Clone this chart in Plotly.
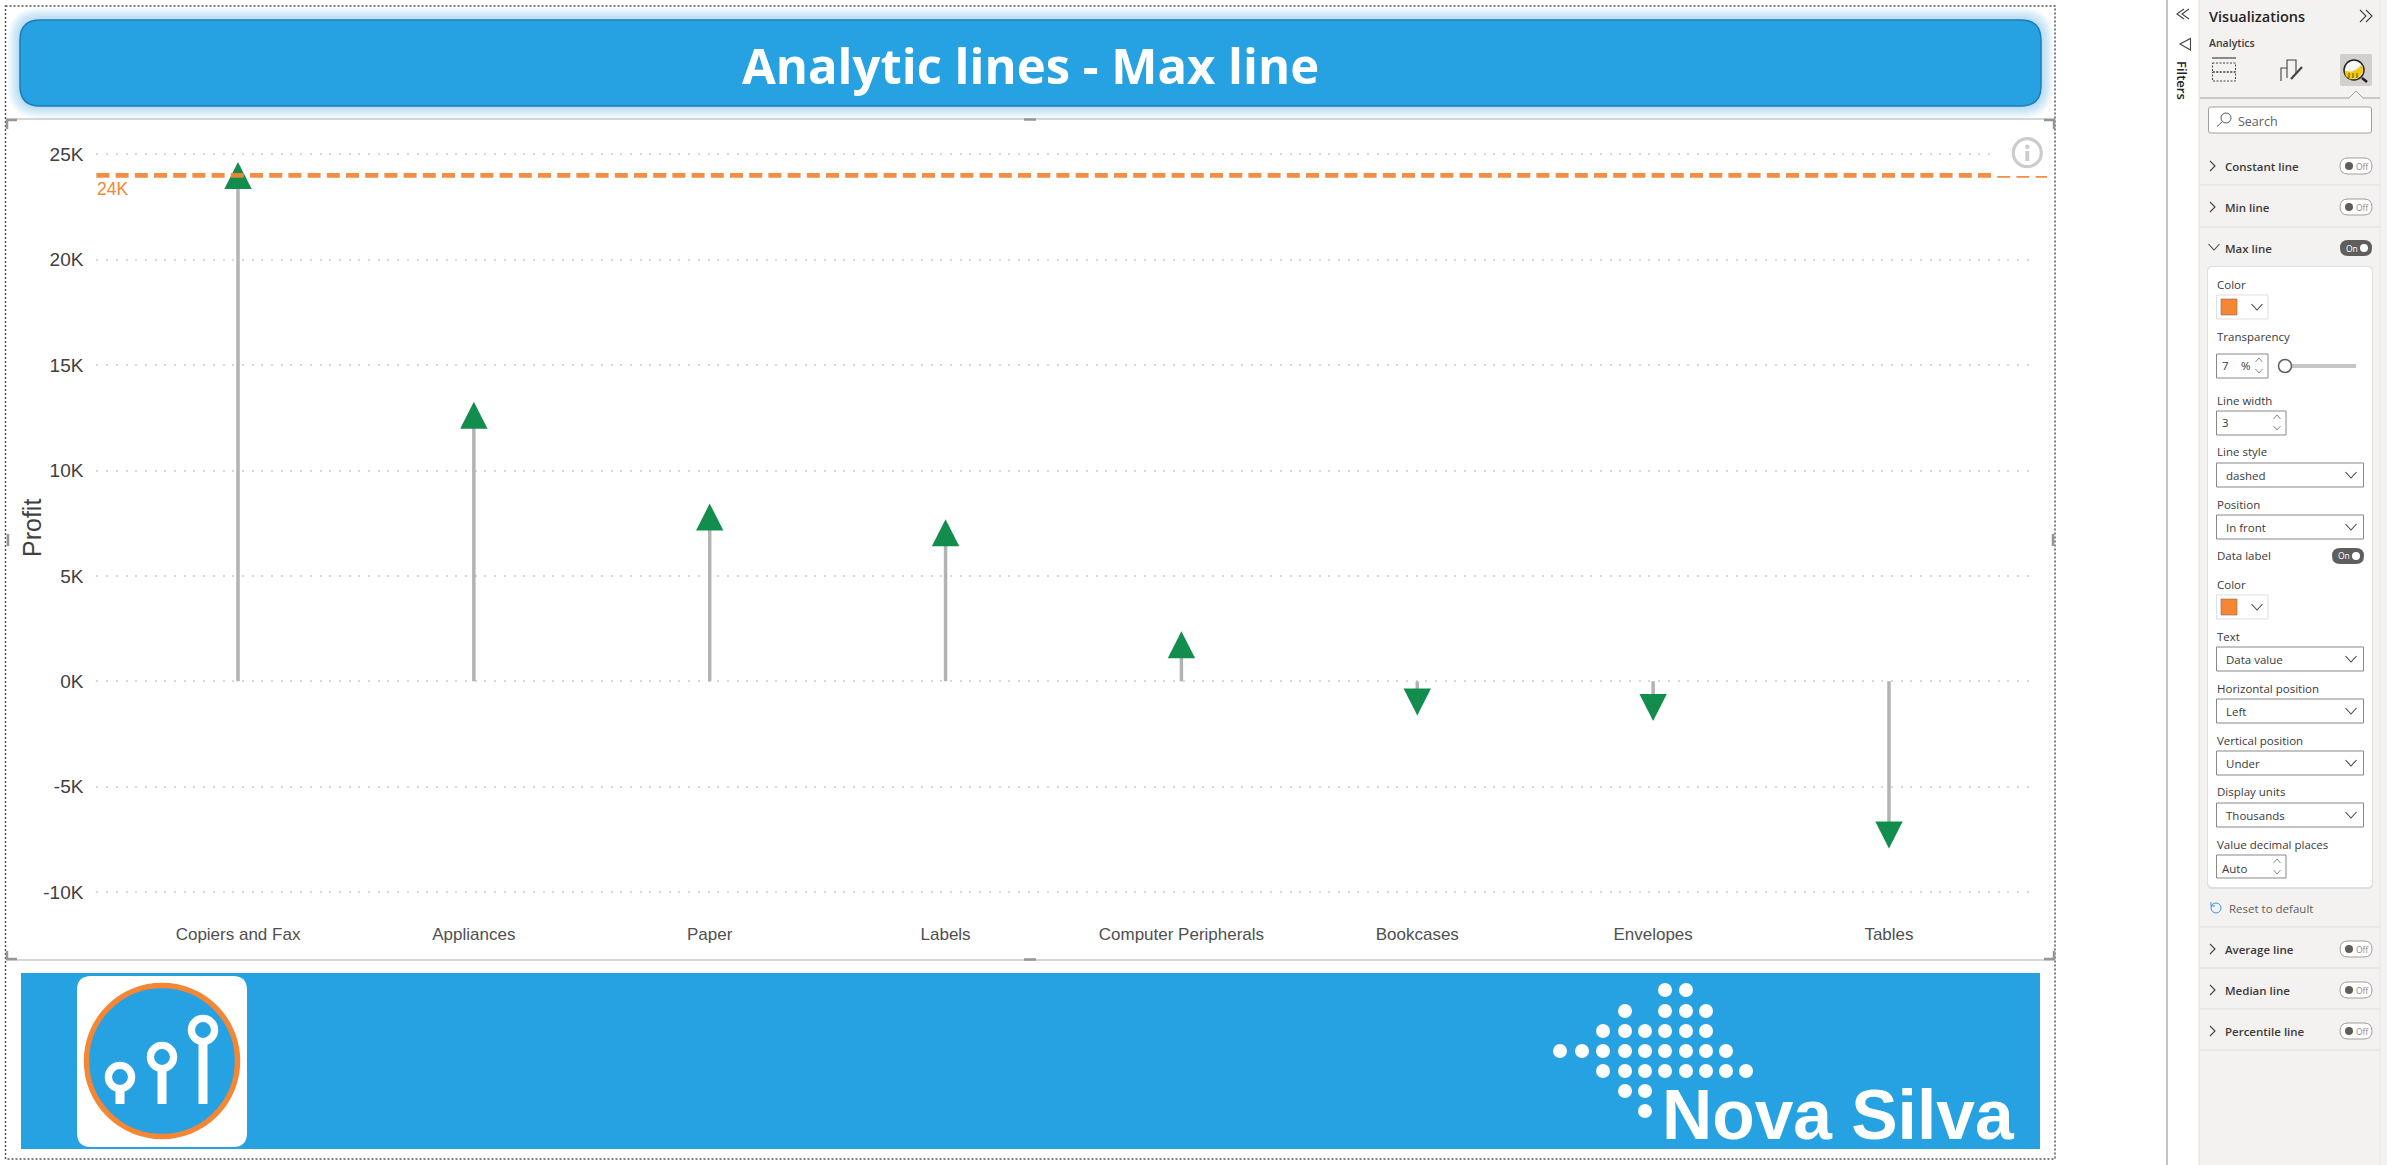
import plotly.graph_objects as go

W, H = 2387, 1165

CATEGORIES = ["Copiers and Fax", "Appliances", "Paper", "Labels", "Computer Peripherals",
              "Bookcases", "Envelopes", "Tables"]
PROFIT = [24000, 12620, 7790, 7050, 1730, -980, -1240, -7290]
Y_TICKS = [-10000, -5000, 0, 5000, 10000, 15000, 20000, 25000]
Y_TICK_LABELS = ["-10K", "-5K", "0K", "5K", "10K", "15K", "20K", "25K"]

BLUE = "#26A1E1"
ORANGE = "#F58634"
GREEN = "#138D4E"
PANEL_FONT = "Open Sans"
CHART_FONT = "Liberation Sans"

shapes = []
notes = []


def px(x):
    return x / W


def py(y):
    return 1 - y / H


def add_rect(x0, y0, x1, y1, fill="rgba(0,0,0,0)", line=None, lw=1, dash=None):
    shapes.append(dict(type="rect", xref="paper", yref="paper",
                       x0=px(x0), x1=px(x1), y0=py(y0), y1=py(y1), fillcolor=fill,
                       line=dict(color=line or "rgba(0,0,0,0)", width=lw if line else 0, dash=dash)))


def add_round(x0, y0, x1, y1, r, fill="rgba(0,0,0,0)", line=None, lw=1):
    d = (f"M{px(x0 + r)},{py(y0)} L{px(x1 - r)},{py(y0)} Q{px(x1)},{py(y0)} {px(x1)},{py(y0 + r)} "
         f"L{px(x1)},{py(y1 - r)} Q{px(x1)},{py(y1)} {px(x1 - r)},{py(y1)} "
         f"L{px(x0 + r)},{py(y1)} Q{px(x0)},{py(y1)} {px(x0)},{py(y1 - r)} "
         f"L{px(x0)},{py(y0 + r)} Q{px(x0)},{py(y0)} {px(x0 + r)},{py(y0)} Z")
    shapes.append(dict(type="path", xref="paper", yref="paper", path=d, fillcolor=fill,
                       line=dict(color=line or "rgba(0,0,0,0)", width=lw if line else 0)))


def add_circle(x, y, r, fill="rgba(0,0,0,0)", line=None, lw=1):
    shapes.append(dict(type="circle", xref="paper", yref="paper",
                       x0=px(x - r), x1=px(x + r), y0=py(y - r), y1=py(y + r), fillcolor=fill,
                       line=dict(color=line or "rgba(0,0,0,0)", width=lw if line else 0)))


def add_poly(points, line="#444444", lw=1.2, fill=None, close=False):
    d = "M" + " L".join(f"{px(x)},{py(y)}" for x, y in points) + (" Z" if close else "")
    shapes.append(dict(type="path", xref="paper", yref="paper", path=d,
                       fillcolor=fill or "rgba(0,0,0,0)", line=dict(color=line, width=lw)))


def add_text(x, y, s, size=11.5, color="#3b3a39", family=PANEL_FONT, weight=400,
             anchor="left", angle=0):
    notes.append(dict(xref="paper", yref="paper", x=px(x), y=py(y), text=s, showarrow=False,
                      xanchor=anchor, yanchor="middle", textangle=angle, borderpad=0,
                      font=dict(size=size, color=color, family=family, weight=weight)))


def chevron_right(x, y):
    add_poly([(x - 3, y - 5), (x + 2, y), (x - 3, y + 5)], lw=1.1)


def chevron_down(x, y, half=5.5):
    add_poly([(x - half, y - 3), (x, y + 3), (x + half, y - 3)], lw=1.1)


def spinner(x, y0, y1):
    add_poly([(x - 3.5, y0 + 2), (x, y0 - 2), (x + 3.5, y0 + 2)], line="#8a8886", lw=1)
    add_poly([(x - 3.5, y1 - 2), (x, y1 + 2), (x + 3.5, y1 - 2)], line="#8a8886", lw=1)


def toggle(x0, y, on=False):
    if on:
        add_round(x0, y - 8, x0 + 32, y + 8, 8, fill="#605e5c")
        add_circle(x0 + 24, y, 4, fill="white")
        add_text(x0 + 4.5, y, "On", size=8.5, color="white")
    else:
        add_round(x0, y - 8, x0 + 32, y + 8, 8, fill="white", line="#a19f9d", lw=1)
        add_circle(x0 + 9, y, 4, fill="#605e5c")
        add_text(x0 + 15, y, "Off", size=8.5, color="#8a8886")


def dropdown(y, label):
    add_rect(2216.5, y, 2363.5, y + 24, fill="white", line="#8a8886")
    add_text(2225, y + 12.5, label)
    chevron_down(2351, y + 12)


def color_box(y):
    add_rect(2216.5, y, 2268, y + 24, fill="white", line="#e1dfdd")
    add_rect(2221, y + 4, 2237, y + 20, fill=ORANGE, line="#8f6a50", lw=0.6)
    chevron_down(2257, y + 12)


def draw_report_chrome():
    # title banner with its soft glow
    for grow in (12, 10, 8, 6, 4, 2):
        add_round(20 - grow, 20 - grow, 2041 + grow, 106 + grow, 20 + grow, fill="rgba(38,161,225,0.06)")
    add_round(20, 20, 2041, 106, 20, fill=BLUE, line="#1F7CB6", lw=1.5)
    add_text(1030, 65, "Analytic lines - Max line", size=49, color="white", weight=700, anchor="center")

    # visual frame and selection handles
    add_poly([(6, 119), (2055, 119)], line="#c8c8c8", lw=1.5)
    add_poly([(6, 960), (2055, 960)], line="#c8c8c8", lw=1.5)
    add_rect(5.5, 6, 2055, 1159, line="#555555", lw=1.5, dash="2px,2px")
    for corner in ([(17, 120), (7, 120), (7, 129)], [(2044, 120), (2054, 120), (2054, 129)],
                   [(7, 951), (7, 959), (17, 959)], [(2054, 951), (2054, 959), (2044, 959)]):
        add_poly(corner, line="#969696", lw=2.5)
    add_poly([(1024, 119.5), (1036, 119.5)], line="#969696", lw=2.5)
    add_poly([(1024, 959.5), (1036, 959.5)], line="#969696", lw=2.5)
    add_poly([(8, 534), (8, 546)], line="#969696", lw=2.5)
    add_poly([(2053, 534), (2053, 546)], line="#969696", lw=2.5)

    # footer band with the two logos
    add_rect(21, 973, 2040, 1149, fill=BLUE)
    add_round(77, 976, 247, 1147, 14, fill="white")
    add_circle(162, 1061, 75.5, fill=BLUE, line=ORANGE, lw=5.5)
    for x, top in ((120, 1077), (162, 1057), (203, 1030)):
        add_rect(x - 4.5, top, x + 4.5, 1104, fill="white")
        add_circle(x, top, 11.6, fill=BLUE, line="white", lw=7.3)
    dot_cols = [1560, 1582, 1603, 1625, 1645, 1665, 1686, 1706, 1726, 1746]
    dot_rows = [(990, (5, 6)), (1011, (3, 5, 6, 7)), (1031, (2, 3, 4, 5, 6, 7)),
                (1051, (0, 1, 2, 3, 4, 5, 6, 7, 8)), (1071, (2, 3, 4, 5, 6, 7, 8, 9)),
                (1091, (3, 4)), (1111, (4,))]
    for y, cols in dot_rows:
        for c in cols:
            add_circle(dot_cols[c], y, 7, fill="white")
    add_text(1661, 1115, "Nova Silva", size=69.5, color="white", family=CHART_FONT, weight=700)


def draw_side_panel():
    add_rect(2199, 0, W, H, fill="#F3F2F1")
    add_poly([(2167, 0), (2167, H)], line="#b3b0ad", lw=1.5)
    add_poly([(2199, 0), (2199, H)], line="#e1dfdd", lw=1)
    add_poly([(2380, 0), (2380, H)], line="#e8e6e4", lw=1)

    # filters strip
    for dx in (0, 5):
        add_poly([(2184 + dx, 9), (2177 + dx, 14), (2184 + dx, 19)], lw=1.1)
    add_poly([(2180, 44), (2190.5, 38.5), (2190.5, 50)], lw=1.1, close=True)
    add_text(2182, 80, "Filters", size=13, weight=600, anchor="center", angle=90, color="#252423")

    # header
    add_text(2208, 16.5, "Visualizations", size=14.5, weight=600, color="#252423")
    for dx in (0, 6):
        add_poly([(2360 + dx, 10), (2366 + dx, 16), (2360 + dx, 22)], lw=1.1)
    add_text(2208, 43, "Analytics", size=10.5, weight=600)

    # tab icons
    add_poly([(2212, 58), (2236, 58)], lw=1.2)
    add_rect(2212.5, 63, 2235.5, 72, line="#444444", lw=1, dash="2px,1.5px")
    add_rect(2212.5, 72, 2235.5, 81, line="#444444", lw=1, dash="2px,1.5px")
    add_poly([(2281, 81), (2281, 68), (2287, 68), (2287, 60), (2296, 60), (2296, 74)], lw=1.1)
    add_poly([(2287, 68), (2287, 78)], lw=1.1)
    add_poly([(2302, 67), (2291, 79)], lw=2.2)
    add_round(2340, 54, 2372, 86, 2, fill="#d2d0ce")
    add_poly([(2362, 78), (2367, 82)], line="#222222", lw=2.6)
    add_circle(2354, 70, 10, fill="#f7f7f7", line="#222222", lw=1.5)
    add_poly([(2345, 71), (2351, 72), (2356, 70), (2362, 65), (2363, 72), (2358, 78), (2350, 79), (2346, 76)],
             line="#F2C811", lw=0.5, fill="#F2C811", close=True)
    for x in (2349, 2353, 2357):
        add_poly([(x, 73), (x, 78)], line="#5c4a00", lw=1)

    add_poly([(2200, 98), (2349, 98), (2356, 91), (2363, 98), (2380, 98)], line="#a19f9d", lw=1, fill="#F3F2F1")

    # search box
    add_round(2208.5, 107, 2371.5, 133, 2, fill="white", line="#a19f9d")
    add_circle(2226, 118, 5, line="#605e5c", lw=1)
    add_poly([(2222.5, 121.5), (2217, 126.5)], line="#605e5c", lw=1)
    add_text(2237, 121, "Search", size=12.5, color="#605e5c")

    # collapsed sections above the card
    for y, label in ((166, "Constant line"), (207, "Min line")):
        chevron_right(2213, y)
        add_text(2224, y, label, size=11.5, weight=600)
        toggle(2340, y)
    for y in (185, 227, 927, 968, 1009, 1050):
        add_poly([(2200, y), (2380, y)], line="#e1dfdd", lw=1)
    chevron_down(2214, 247)
    add_text(2224, 248, "Max line", size=11.5, weight=600)
    toggle(2340, 248, on=True)

    # settings card
    add_round(2207, 266, 2373, 889, 5, fill="rgba(0,0,0,0.07)")
    add_round(2208, 267, 2372, 887, 5, fill="white")

    for y, label in ((284, "Color"), (336, "Transparency"), (400, "Line width"), (452, "Line style"),
                     (504, "Position"), (556, "Data label"), (584, "Color"), (636, "Text"),
                     (688, "Horizontal position"), (740, "Vertical position"), (792, "Display units"),
                     (844, "Value decimal places")):
        add_text(2216, y, label)

    color_box(295)
    color_box(595)

    add_rect(2216.5, 354, 2268, 378, fill="white", line="#8a8886")
    add_text(2221, 366, "7")
    add_text(2240, 366, "%")
    spinner(2259, 360, 371)
    add_rect(2290, 364, 2356, 368, fill="#c8c6c4")
    add_circle(2285, 366, 6.5, fill="white", line="#605e5c", lw=1.5)

    add_rect(2216.5, 411, 2286, 435, fill="white", line="#8a8886")
    add_text(2221, 423, "3")
    spinner(2277, 417, 428)

    dropdown(463, "dashed")
    dropdown(515, "In front")
    toggle(2332, 556, on=True)
    dropdown(647, "Data value")
    dropdown(699, "Left")
    dropdown(751, "Under")
    dropdown(803, "Thousands")

    add_rect(2216.5, 855, 2286, 878, fill="white", line="#8a8886")
    add_text(2221, 868, "Auto")
    spinner(2277, 861, 872)

    # below the card
    add_circle(2216, 908, 5, line="#3a96dd", lw=1)
    add_poly([(2211, 902), (2211, 906), (2215, 906)], line="#3a96dd", lw=1)
    add_text(2228, 908, "Reset to default", color="#605e5c")
    for y, label in ((949, "Average line"), (990, "Median line"), (1031, "Percentile line")):
        chevron_right(2213, y)
        add_text(2224, y, label, size=11.5, weight=600)
        toggle(2340, y)


def draw_markers():
    # pixel-sized triangles pinned to the data, plotly's own glyphs are too squat
    for cat, val in zip(CATEGORIES, PROFIT):
        s = 1 if val >= 0 else -1
        glyph = f"M -13.7 {-13.5 * s} L 0 {13.5 * s} L 13.7 {-13.5 * s} Z"
        shapes.append(dict(type="path", xref="x", yref="y", xsizemode="pixel", ysizemode="pixel",
                           xanchor=cat, yanchor=val, path=glyph, fillcolor=GREEN,
                           line=dict(width=0)))


def draw_max_line():
    top = max(PROFIT)
    shapes.append(dict(type="line", xref="paper", yref="y", x0=px(96.4), x1=px(2047), y0=top, y1=top,
                       opacity=0.93, line=dict(color=ORANGE, width=4.6, dash="13px,6.2px")))
    notes.append(dict(xref="paper", yref="y", x=px(96), y=top, yshift=-14, text=f"{top / 1000:.0f}K",
                      showarrow=False, xanchor="left", yanchor="middle", borderpad=0,
                      font=dict(size=17.5, color=ORANGE, family=CHART_FONT)))
    # the info button's box covers the top half of the line's end
    add_rect(1994, 130, 2050, 176, fill="white")
    add_circle(2027.3, 152.7, 14, fill="white", line="#cccccc", lw=3.2)
    add_circle(2027.3, 146.7, 2.2, fill="#cccccc")
    add_rect(2025.3, 151, 2029.3, 161, fill="#cccccc")


draw_report_chrome()
draw_side_panel()
draw_markers()
draw_max_line()
add_text(32, 528, "Profit", size=25, color="#404040", family=CHART_FONT, anchor="center", angle=-90)

fig = go.Figure()
fig.add_trace(go.Bar(
    x=CATEGORIES,
    y=PROFIT,
    width=[0.0148] * len(CATEGORIES),
    marker=dict(color="#b3b3b3", line=dict(width=0)),
    hoverinfo="skip",
))
fig.add_trace(go.Scatter(
    x=CATEGORIES,
    y=PROFIT,
    mode="markers",
    marker=dict(color=GREEN, size=14, symbol=["triangle-up" if v >= 0 else "triangle-down" for v in PROFIT]),
    cliponaxis=False,
    hovertemplate="%{x}: %{y}<extra></extra>",
))

fig.update_layout(
    width=W, height=H,
    margin=dict(l=0, r=0, t=0, b=0, autoexpand=False),
    showlegend=False,
    plot_bgcolor="white",
    paper_bgcolor="white",
    font=dict(family=CHART_FONT, size=17, color="#505050"),
    shapes=shapes,
    annotations=notes,
)
fig.update_xaxes(
    type="category",
    categoryorder="array",
    categoryarray=CATEGORIES,
    domain=[96.4 / W, 2028.6 / W],
    range=[-0.6004, 7.592],
    showgrid=False,
    showline=False,
    zeroline=False,
    ticks="",
    ticklabelstandoff=14,
    tickfont=dict(size=17, color="#505050"),
)
fig.update_yaxes(
    domain=[1 - 908 / H, 1 - 148 / H],
    range=[-10754, 25300],
    tickmode="array",
    tickvals=Y_TICKS,
    ticktext=Y_TICK_LABELS,
    showgrid=True,
    gridcolor="#d8d8d8",
    gridwidth=1.5,
    griddash="2px,7.7px",
    showline=False,
    zeroline=False,
    ticks="",
    ticklabelstandoff=12,
    tickfont=dict(size=19, color="#404040"),
)

fig.write_html("out.html", config={"displayModeBar": False},
               post_script="document.body.style.margin='0';document.body.style.overflow='hidden';")
